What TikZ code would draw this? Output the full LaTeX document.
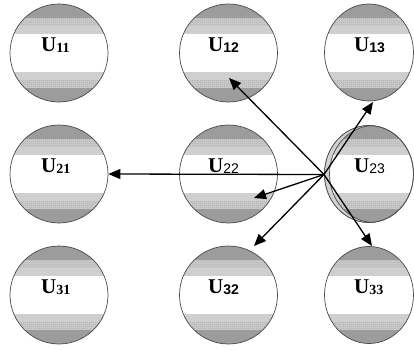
\documentclass[tikz,border=0pt]{standalone}
\usepackage{fontspec}
\setmainfont{Liberation Serif}
\newfontfamily\subsans{Liberation Sans}
\usetikzlibrary{arrows.meta,shapes.geometric,patterns}
\pgfdeclarepatternformonly{finedots}{\pgfqpoint{0pt}{0pt}}{\pgfqpoint{1.6pt}{1.6pt}}{\pgfqpoint{1.6pt}{1.6pt}}{\pgfpathrectangle{\pgfqpoint{0pt}{0pt}}{\pgfqpoint{0.8pt}{0.8pt}}\pgfusepath{fill}}
\definecolor{bandDark}{HTML}{9C9C9C}
\definecolor{bandLight}{HTML}{CFCFCF}
\definecolor{bandDot}{HTML}{C8C8C8}
\definecolor{dotInk}{HTML}{A2A2A2}
\definecolor{rimColor}{HTML}{4A4A4A}
\definecolor{lensColor}{HTML}{D2D2D2}
\newcommand\stripeset{%
  \begin{scope}[shift={(path picture bounding box.center)}]
    \fill[bandDark] (-60,-60) rectangle (60,-35);
    \fill[bandDot] (-60,-35) rectangle (60,-27);
    \fill[pattern=finedots, pattern color=dotInk] (-60,-35) rectangle (60,-27);
    \fill[bandLight] (-60,-27) rectangle (60,-19);
    \fill[bandLight] (-60,19) rectangle (60,27);
    \fill[bandDot] (-60,27) rectangle (60,35);
    \fill[pattern=finedots, pattern color=dotInk] (-60,27) rectangle (60,35);
    \fill[bandDark] (-60,35) rectangle (60,60);
  \end{scope}}
\newcommand\subS[1]{\raisebox{-1.2bp}{\fontsize{14bp}{14bp}\selectfont #1}}
\newcommand\subA[1]{\raisebox{-1.2bp}{\fontsize{14bp}{14bp}\selectfont\subsans #1}}
\newcommand\subR[1]{\raisebox{-1.2bp}{\fontsize{14bp}{14bp}\selectfont\subsans\mdseries #1}}
\begin{document}
\begin{tikzpicture}[x=1bp,y=-1bp,
  cell/.style={ellipse, draw=rimColor, line width=0.7bp, minimum width=98bp,
    minimum height=98bp, inner sep=0pt, path picture={\stripeset}},
  narrow/.style={minimum width=89bp, minimum height=97bp},
  lab/.style={anchor=base west, inner sep=0pt, font=\fontsize{21bp}{21bp}\selectfont\bfseries},
  arr/.style={line width=1.3bp, -{Triangle[length=12bp,width=10bp]}}]
\useasboundingbox (0,0) rectangle (414,350);
% cells
\node[cell] (c11) at (59,53) {};
\node[cell] (c12) at (228.5,53) {};
\node[cell,narrow] (c13) at (369,52.5) {};
\node[cell] (c21) at (59,174) {};
\node[cell] (c22) at (228.5,174) {};
\node[cell,narrow] (c23) at (369,174) {};
\node[cell] (c31) at (59,295) {};
\node[cell] (c32) at (228.5,295) {};
\node[cell,narrow] (c33) at (369,295) {};
% lens on U23
\begin{scope}
  \clip (369,174) ellipse [x radius=44.5, y radius=48.5];
  \fill[lensColor, even odd rule] (369,174) ellipse [x radius=44.5, y radius=48.5]
     (374,174) ellipse [x radius=44.5, y radius=48.5];
  \draw[rimColor, line width=0.7bp] (374,174) ellipse [x radius=44.5, y radius=48.5];
\end{scope}
\draw[rimColor, line width=0.7bp] (369,174) ellipse [x radius=44.5, y radius=48.5];
% labels
\node[lab] (t11) at (41,51) {U\subS{11}};
\node[lab] (t12) at (208,51) {U\subA{12}};
\node[lab] (t13) at (354,51) {U\subA{13}};
\node[lab] (t21) at (41,172) {U\subS{21}};
\node[lab] (t22) at (208,172) {U\subR{22}};
\node[lab] (t23) at (354,172) {U\subR{23}};
\node[lab] (t31) at (41,293) {U\subS{31}};
\node[lab] (t32) at (208,293) {U\subA{32}};
\node[lab] (t33) at (354,293) {U\subS{33}};
% arrows
\coordinate (O) at (324,174.5);
\coordinate (p12) at (229,78);
\coordinate (p13) at (373,102);
\coordinate (p22) at (254,198);
\coordinate (p32) at (254,246);
\coordinate (p33) at (372,246);
\draw[arr] (O) -- (c21.east);
\draw[arr] (O) -- (p12);
\draw[arr] (O) -- (p13);
\draw[arr] (O) -- (p22);
\draw[arr] (O) -- (p32);
\draw[arr] (O) -- (p33);
\end{tikzpicture}
\end{document}
